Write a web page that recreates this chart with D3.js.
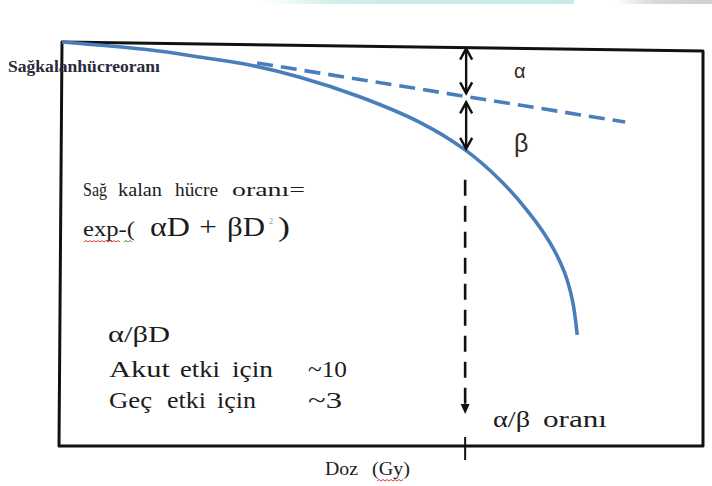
<!DOCTYPE html>
<html><head><meta charset="utf-8">
<script src="https://cdn.jsdelivr.net/npm/d3@7"></script>
<style>
html,body{margin:0;padding:0;background:#fff;}
svg{display:block;}
</style></head><body>
<svg id="chart" width="712" height="486"></svg>
<script>
// Cell survival curve: dose (Gy) against -ln(surviving fraction)
const survDose    = [0, 2.2, 3.4, 4.5, 5.9, 7.4, 8.9, 10, 10.87, 11.61, 12.11, 12.46, 12.66, 12.78];
const survLogKill = [0, 0.2, 0.37, 0.54, 0.87, 1.36, 2.0, 2.67, 3.42, 4.26, 4.98, 5.69, 6.39, 7.25];
// Linear (alpha-only) component, drawn dashed
const alphaDose    = [4.84, 13.97];
const alphaLogKill = [0.52, 1.98];
// Dose where the alpha and beta contributions are equal
const alphaBetaRatio = 10;
// Axis extents
const doseMax = 15.9;
const logKillMax = 10;
const topTilt = 0.22;   // slight slope of the upper border

const serif = "'Liberation Serif','Times New Roman',Times,serif";
const sans = "'Liberation Sans',Arial,sans-serif";

const svg = d3.select("#chart");
const x = d3.scaleLinear().domain([0, doseMax]).range([62, 703]);
const y = d3.scaleLinear().domain([0, logKillMax]).range([42, 446]);

// page strip along the top edge
const defs = svg.append("defs");
const g1 = defs.append("linearGradient").attr("id", "tealBand");
g1.append("stop").attr("offset", "0").attr("stop-color", "#ffffff");
g1.append("stop").attr("offset", "0.25").attr("stop-color", "#cdeeea");
g1.append("stop").attr("offset", "1").attr("stop-color", "#c6ebe6");
const g2 = defs.append("linearGradient").attr("id", "greyBand");
g2.append("stop").attr("offset", "0").attr("stop-color", "#ffffff");
g2.append("stop").attr("offset", "0.4").attr("stop-color", "#d9d9d9");
g2.append("stop").attr("offset", "1").attr("stop-color", "#cfcfcf");
svg.append("rect").attr("x", 262).attr("y", 0).attr("width", 312).attr("height", 4).attr("fill", "url(#tealBand)");
svg.append("rect").attr("x", 615).attr("y", 0).attr("width", 97).attr("height", 4).attr("fill", "url(#greyBand)");

// border (axes box)
const frame = d3.path();
frame.moveTo(x(0), y(0));
frame.lineTo(x(doseMax), y(topTilt));
frame.lineTo(x(doseMax), y(logKillMax));
frame.lineTo(x(0) - 3, y(logKillMax));
frame.closePath();
svg.append("path").attr("d", frame.toString())
  .attr("fill", "none").attr("stroke", "#111").attr("stroke-width", 3)
  .attr("stroke-linejoin", "round");

const blue = "#4a7ebb";

// survival curve
svg.append("path")
  .datum(d3.zip(survDose, survLogKill))
  .attr("d", d3.line().x(d => x(d[0])).y(d => y(d[1])).curve(d3.curveCatmullRom.alpha(0.5)))
  .attr("fill", "none").attr("stroke", blue).attr("stroke-width", 3.6);

// alpha component (dashed)
svg.append("path")
  .datum(d3.zip(alphaDose, alphaLogKill))
  .attr("d", d3.line().x(d => x(d[0])).y(d => y(d[1])))
  .attr("fill", "none").attr("stroke", blue).attr("stroke-width", 3.6)
  .attr("stroke-dasharray", "16 8");

// value of each component at the alpha/beta dose
const xm = x(alphaBetaRatio);
const topAtMarker = y(topTilt * alphaBetaRatio / doseMax);
const dashAtMarker = y(d3.scaleLinear().domain(alphaDose).range(alphaLogKill)(alphaBetaRatio));
const curveAtMarker = y(d3.scaleLinear().domain(survDose).range(survLogKill)(alphaBetaRatio));

function chevron(px, py, dir) {
  // open arrow head, dir = -1 points up, 1 points down
  svg.append("path")
    .attr("d", `M${px - 6},${py - dir * 11} L${px},${py} L${px + 6},${py - dir * 11}`)
    .attr("fill", "none").attr("stroke", "#111").attr("stroke-width", 2.4)
    .attr("stroke-linejoin", "miter");
}
function doubleArrow(px, y0, y1) {
  svg.append("line").attr("x1", px).attr("x2", px).attr("y1", y0).attr("y2", y1)
    .attr("stroke", "#111").attr("stroke-width", 2.4);
  chevron(px, y0, -1);
  chevron(px, y1, 1);
}
doubleArrow(xm + 1, topAtMarker + 1, dashAtMarker - 3);
doubleArrow(xm + 1, dashAtMarker + 6, curveAtMarker - 1);

// dashed drop line to the dose axis
const dropEnd = y(logKillMax) - 32;
svg.append("line").attr("x1", xm).attr("x2", xm)
  .attr("y1", curveAtMarker + 30).attr("y2", dropEnd - 8)
  .attr("stroke", "#111").attr("stroke-width", 2.6).attr("stroke-dasharray", "16 10");
svg.append("path")
  .attr("d", `M${xm - 4.5},${dropEnd - 10} L${xm + 4.5},${dropEnd - 10} L${xm},${dropEnd} Z`)
  .attr("fill", "#111");
// tick on the dose axis
svg.append("line").attr("x1", xm).attr("x2", xm)
  .attr("y1", y(logKillMax) - 9).attr("y2", y(logKillMax) + 14)
  .attr("stroke", "#111").attr("stroke-width", 2);

// labels
function label(txt, tx, ty, size, width, opts = {}) {
  const t = svg.append("text").attr("x", tx).attr("y", ty)
    .attr("font-family", opts.family || serif)
    .attr("font-size", size)
    .attr("font-weight", opts.weight || "normal")
    .attr("fill", opts.fill || "#1c1c1c")
    .text(txt);
  if (width) t.attr("textLength", width).attr("lengthAdjust", "spacingAndGlyphs");
  return t;
}
// a line of words set with wide gaps: [word, left, right]
function words(list, ty, size, opts) {
  list.forEach(([w, x0, x1]) => label(w, x0, ty, size, x1 - x0, opts));
}

label("Sağkalanhücreoranı", 8, 72, 17, 152, { weight: "bold", fill: "#2a2a3a" });
label("α", 514, 78, 20, null, { family: sans, fill: "#3a2a1a" });
label("β", 514, 152, 25, null, { family: sans, fill: "#3a2a1a" });

words([["Sağ", 83, 107], ["kalan", 118, 162], ["hücre", 175, 218], ["oranı=", 232, 305]], 196, 19);
label("exp-(", 83, 236, 22, 52);
label("αD", 150, 236, 27, 40);
label("+", 199, 236, 27, 18);
label("βD", 227, 236, 27, 38);
label("2", 269, 224, 8, null, { fill: "#9a9a9a" });
label(")", 278, 236, 27, 12);

label("α/βD", 108, 342, 23, 62);
words([["Akut", 109, 170], ["etki", 180, 220], ["için", 232, 273], ["~10", 308, 347]], 377, 23);
words([["Geç", 109, 152], ["etki", 167, 206], ["için", 217, 256], ["~3", 308, 342]], 408, 23);
words([["α/β", 493, 530], ["oranı", 543, 607]], 427, 23);
words([["Doz", 325, 358], ["(Gy)", 372, 410]], 475, 19);

// spell-check underlines
function squiggle(x0, x1, yy, color) {
  const p = d3.path();
  p.moveTo(x0, yy);
  let up = true;
  for (let xx = x0 + 2; xx <= x1; xx += 2) { p.lineTo(xx, yy + (up ? -1.5 : 0)); up = !up; }
  svg.append("path").attr("d", p.toString()).attr("fill", "none")
    .attr("stroke", color).attr("stroke-width", 1);
}
squiggle(84, 120, 242, "#e0403a");
squiggle(124, 132, 242, "#3aa050");
squiggle(377, 404, 481, "#e0403a");
</script>
</body></html>
